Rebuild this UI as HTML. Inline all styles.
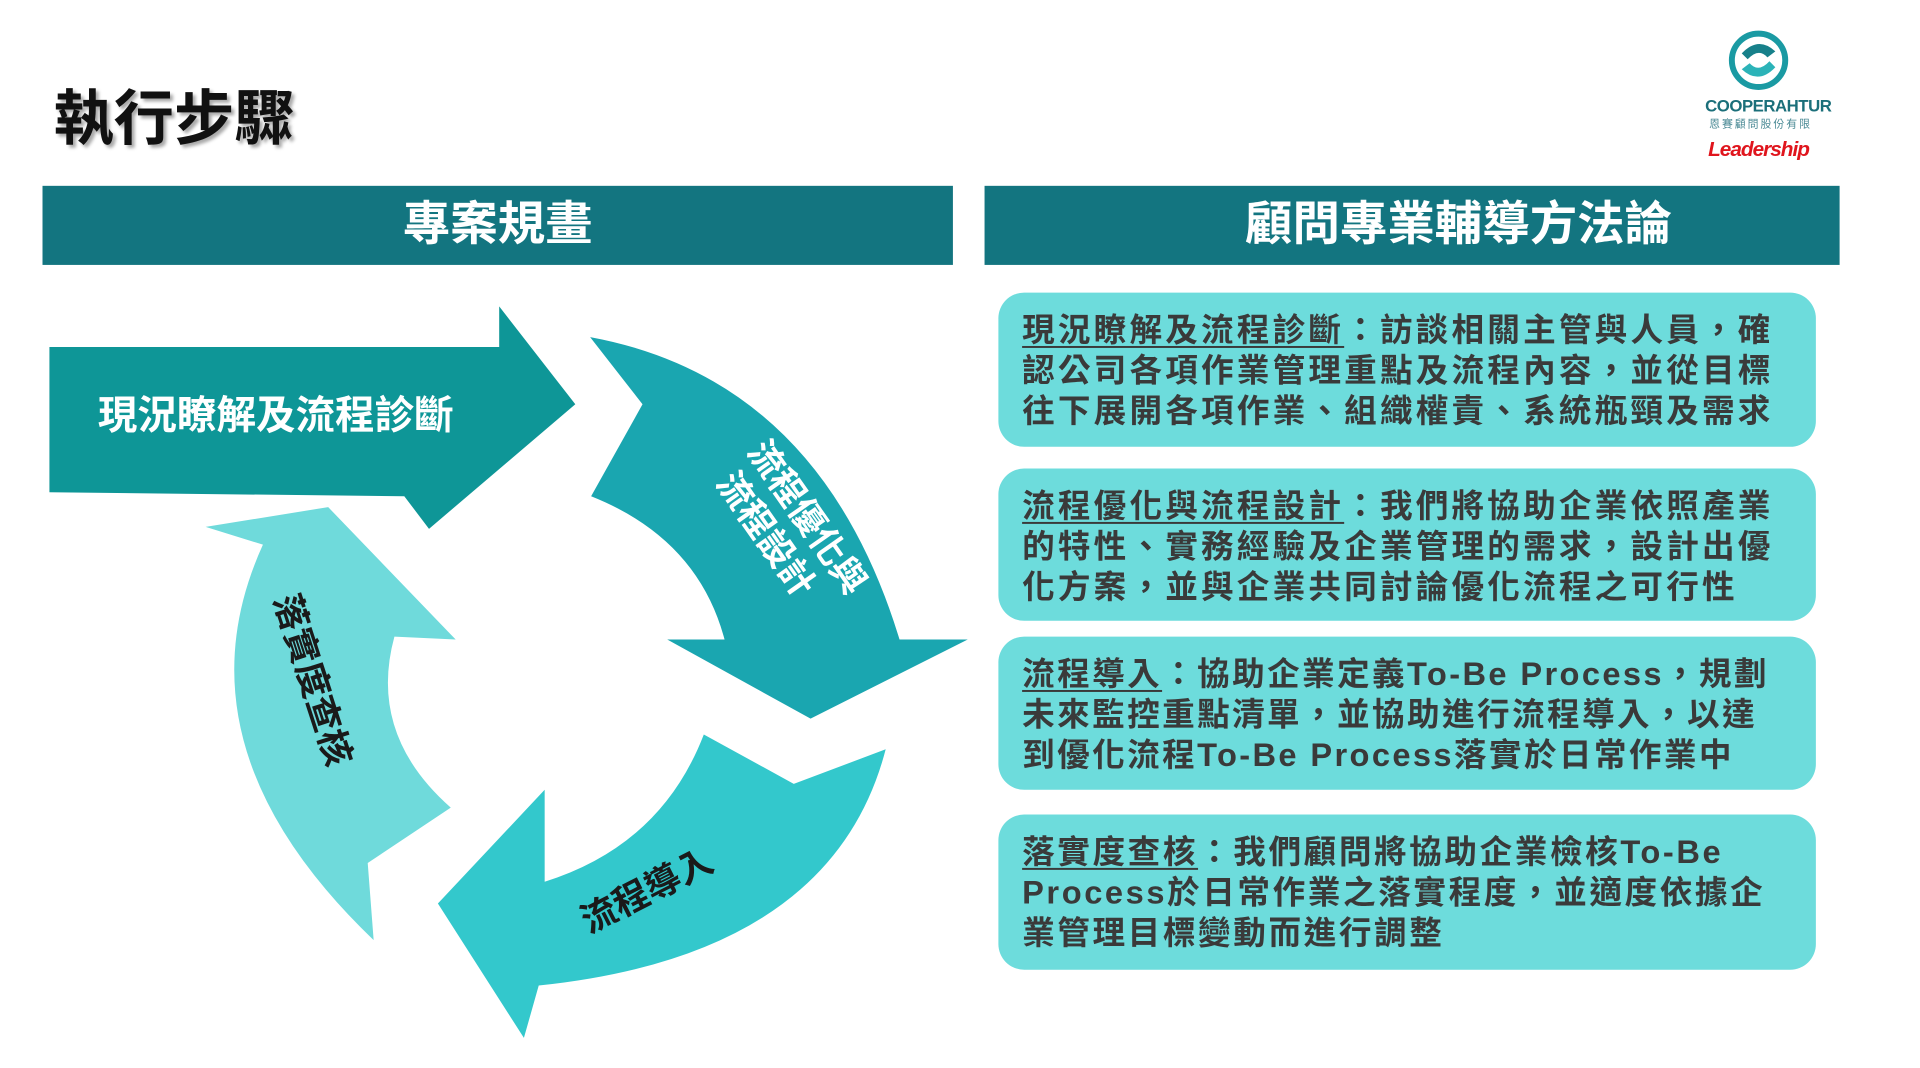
<!DOCTYPE html>
<html><head><meta charset="utf-8">
<style>
body{margin:0;width:1920px;height:1068px;background:#fff;position:relative;overflow:hidden;font-family:"Liberation Sans","Noto Sans CJK TC",sans-serif;}
#w{position:absolute;left:0;top:0;width:1942px;height:1080px;transform:scale(0.9885);transform-origin:0 0;}
.abs{position:absolute}
.title{left:54px;top:70px;font-size:61px;font-weight:bold;color:#111;text-shadow:3px 3px 3px #aaa;}
.hdr{background:#137580;color:#fff;font-weight:bold;font-size:48px;text-align:center;line-height:80px;height:80px;top:188px;box-sizing:border-box;}
.box{left:1010px;width:827px;background:#6ddcdc;border-radius:26px;box-sizing:border-box;padding:17px 0 0 24px;font-size:33px;line-height:41px;font-weight:bold;color:#3a3a3a;letter-spacing:3.2px;}
.box u{text-decoration:underline;text-underline-offset:5px;text-decoration-thickness:2px}
</style></head><body><div id="w">
<div class="abs title">執行步驟</div>
<svg class="abs" style="left:1748px;top:30px" width="62" height="62" viewBox="0 0 62 62">
<circle cx="31" cy="31" r="27" fill="none" stroke="#1a9aa3" stroke-width="6"/>
<path d="M14 24 Q31 6 48 22 L40 28 Q31 18 20 30Z" fill="#17808a"/>
<path d="M48 38 Q31 56 14 40 L22 34 Q31 44 42 32Z" fill="#2bb3b8"/>
</svg>
<div class="abs" style="left:1725px;top:98px;width:112px;text-align:center;font-size:17px;color:#1b6f7a;font-weight:bold;letter-spacing:-0.5px">COOPERAHTUR</div>
<div class="abs" style="left:1725px;top:117px;width:112px;text-align:center;font-size:11px;color:#4a8a95;letter-spacing:2px">恩賽顧問股份有限</div>
<div class="abs" style="left:1727px;top:140px;width:104px;text-align:center;font-size:21px;color:#e0151d;font-weight:bold;font-style:italic;letter-spacing:-1px">Leadership</div>

<div class="abs hdr" style="left:43px;width:921px">專案規畫</div>
<div class="abs hdr" style="left:996px;width:865px;padding-left:94px">顧問專業輔導方法論</div>

<svg class="abs" style="left:0;top:0" width="1000" height="1080" viewBox="0 0 1000 1080">
<path d="M50,351 L505,351 L505,310 L582,409 L434,535 L409,502 L50,498 Z" fill="#0e9697"/>
<path d="M597,341 Q830,384 910,647 L979,647 L820,727 L675,647 L733,647 Q706,545 598,502 L650,409 Z" fill="#1aa6b0"/>
<path d="M712,743 L803,793 L896,758 Q842,966 545,997 L530,1050 L443,914 L551,799 L551,892 Q669,855 712,743 Z" fill="#33c8cc"/>
<path d="M378,951 Q173,755 266,551 L208,533 L332,513 L461,647 L399,644 Q372,743 456,817 L372,873 Z" fill="#6fdadb"/>
<text x="99" y="434" font-size="40" font-weight="bold" fill="#fff" font-family="Liberation Sans,Noto Sans CJK TC,sans-serif">現況瞭解及流程診斷</text>
<g transform="translate(800,535) rotate(55)" font-size="36" font-weight="bold" fill="#fff" text-anchor="middle" font-family="Liberation Sans,Noto Sans CJK TC,sans-serif">
<text x="0" y="-8">流程優化與</text><text x="-10" y="36">流程設計</text></g>
<text transform="translate(660,912) rotate(-27)" text-anchor="middle" font-size="36" font-weight="bold" fill="#1a1a1a" font-family="Liberation Sans,Noto Sans CJK TC,sans-serif">流程導入</text>
<text transform="translate(316,688) rotate(72)" text-anchor="middle" dy="12" font-size="36" font-weight="bold" fill="#1a1a1a" font-family="Liberation Sans,Noto Sans CJK TC,sans-serif">落實度查核</text>
</svg>

<div class="abs box" style="top:296px;height:156px"><u>現況瞭解及流程診斷</u>：訪談相關主管與人員，確<br>認公司各項作業管理重點及流程內容，並從目標<br>往下展開各項作業、組織權責、系統瓶頸及需求</div>
<div class="abs box" style="top:474px;height:154px"><u>流程優化與流程設計</u>：我們將協助企業依照產業<br>的特性、實務經驗及企業管理的需求，設計出優<br>化方案，並與企業共同討論優化流程之可行性</div>
<div class="abs box" style="top:644px;height:155px;letter-spacing:2.4px"><u>流程導入</u>：協助企業定義To-Be Process，規劃<br>未來監控重點清單，並協助進行流程導入，以達<br>到優化流程To-Be Process落實於日常作業中</div>
<div class="abs box" style="top:824px;height:157px;letter-spacing:2.6px"><u>落實度查核</u>：我們顧問將協助企業檢核To-Be<br>Process於日常作業之落實程度，並適度依據企<br>業管理目標變動而進行調整</div>
</div></body></html>
